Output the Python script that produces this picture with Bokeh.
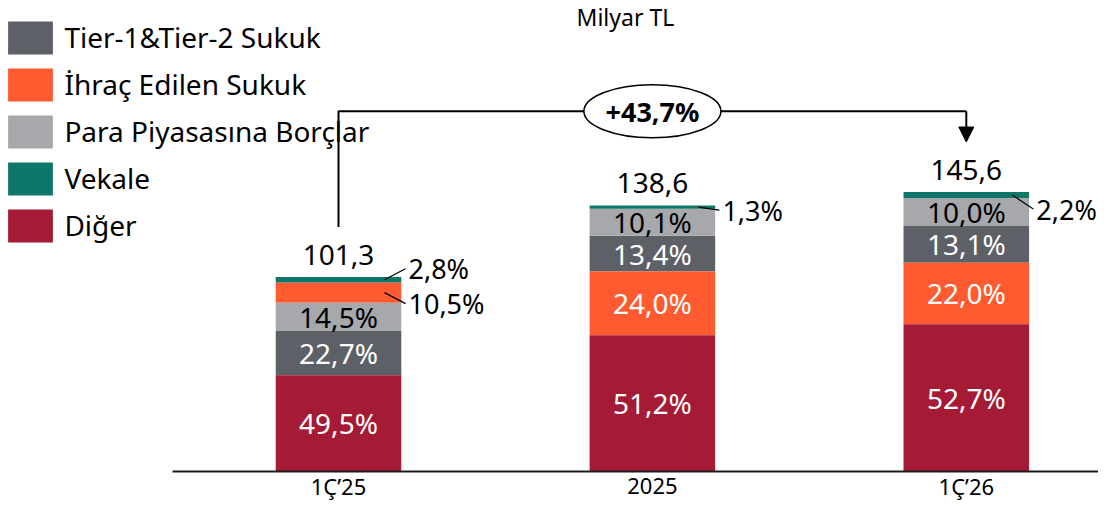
from bokeh.plotting import figure
from bokeh.models import Range1d, ColumnDataSource, Legend, LegendItem, Arrow, NormalHead
from bokeh.core.properties import value
from bokeh.embed import file_html
from bokeh.resources import INLINE

# ---------------- data ----------------
categories = ["1Ç’25", "2025", "1Ç’26"]
totals = [101.3, 138.6, 145.6]
series = ["Tier-1&Tier-2 Sukuk", "İhraç Edilen Sukuk", "Para Piyasasına Borçlar", "Vekale", "Diğer"]
share_tier = [22.7, 13.4, 13.1]
share_ihrac = [10.5, 24.0, 22.0]
share_para = [14.5, 10.1, 10.0]
share_vekale = [2.8, 1.3, 2.2]
share_diger = [49.5, 51.2, 52.7]
stack_order = [
    ["Diğer", "Tier-1&Tier-2 Sukuk", "Para Piyasasına Borçlar", "İhraç Edilen Sukuk", "Vekale"],
    ["Diğer", "İhraç Edilen Sukuk", "Tier-1&Tier-2 Sukuk", "Para Piyasasına Borçlar", "Vekale"],
    ["Diğer", "İhraç Edilen Sukuk", "Tier-1&Tier-2 Sukuk", "Para Piyasasına Borçlar", "Vekale"],
]
growth_label = "+43,7%"
unit_label = "Milyar TL"

shares = {
    "Tier-1&Tier-2 Sukuk": share_tier,
    "İhraç Edilen Sukuk": share_ihrac,
    "Para Piyasasına Borçlar": share_para,
    "Vekale": share_vekale,
    "Diğer": share_diger,
}

# ---------------- style ----------------
colors = {
    "Tier-1&Tier-2 Sukuk": "#5E6068",
    "İhraç Edilen Sukuk": "#FF5A30",
    "Para Piyasasına Borçlar": "#A7A8AC",
    "Vekale": "#0F766A",
    "Diğer": "#A51A34",
}
label_colors = {
    "Tier-1&Tier-2 Sukuk": "white",
    "İhraç Edilen Sukuk": "white",
    "Para Piyasasına Borçlar": "black",
    "Vekale": "white",
    "Diğer": "white",
}
# segments labelled outside the bar: (category index, series, leader vertical shift in px)
outside = [(0, "Vekale", -11), (0, "İhraç Edilen Sukuk", 11), (1, "Vekale", 3), (2, "Vekale", 14)]

FONT = "Noto Sans"
W, H = 1098, 501
PX_X = 313.9    # px per x unit
PX_Y = 1.92     # px per y unit
X0_PX = 338     # screen x of first bar centre
BASE_PX = 471   # screen y of the baseline
x_start = -X0_PX / PX_X
x_end = (W - X0_PX) / PX_X
y_end = BASE_PX / PX_Y
y_start = -(H - BASE_PX) / PX_Y

p = figure(width=W, height=H, output_backend="svg", toolbar_location=None,
           x_range=Range1d(x_start, x_end), y_range=Range1d(y_start, y_end),
           x_axis_location=None, y_axis_location=None,
           min_border_left=0, min_border_right=0, min_border_top=0, min_border_bottom=0)
p.outline_line_color = None
p.grid.visible = False
p.background_fill_color = "white"
p.border_fill_color = "white"

xs = list(range(len(categories)))

# stacked segments (order differs per bar)
bounds = {s: ([0.0] * 3, [0.0] * 3) for s in series}
for i, order in enumerate(stack_order):
    acc = 0.0
    for s in order:
        v = totals[i] * shares[s][i] / 100.0
        bounds[s][0][i] = acc
        bounds[s][1][i] = acc + v
        acc += v

renderers = {}
for s in series:
    src = ColumnDataSource(dict(x=xs, bottom=bounds[s][0], top=bounds[s][1]))
    renderers[s] = p.vbar(x="x", bottom="bottom", top="top", width=0.4, source=src,
                          fill_color=colors[s], line_color=None)

# baseline (category axis line)
p.segment(x0=[-166 / PX_X], y0=[0], x1=[x_end], y1=[0], line_color="#1a1a1a", line_width=2)

# category labels
p.text(x=xs, y=[0] * len(xs), text=categories, y_offset=14, text_align="center",
       text_baseline="middle", text_color="black", text_font=value(FONT),
       text_font_size="22px")

# inside labels
out_keys = {(i, s) for i, s, _ in outside}
lx, ly, lt, lc = [], [], [], []
for s in series:
    for i in xs:
        if (i, s) in out_keys:
            continue
        lx.append(i)
        ly.append((bounds[s][0][i] + bounds[s][1][i]) / 2)
        lt.append(f"{shares[s][i]:.1f}%".replace(".", ","))
        lc.append(label_colors[s])
p.text(x="x", y="y", text="t", text_color="c",
       source=ColumnDataSource(dict(x=lx, y=ly, t=lt, c=lc)),
       text_align="center", text_baseline="middle",
       text_font=value(FONT), text_font_size="28px")

# outside labels with leader lines
x0s, y0s, x1s, y1s, ot = [], [], [], [], []
for i, s, dy in outside:
    mid = (bounds[s][0][i] + bounds[s][1][i]) / 2
    x0s.append(i + 46 / PX_X)
    y0s.append(mid)
    x1s.append(i + 67 / PX_X)
    y1s.append(mid - dy / PX_Y)
    ot.append(f"{shares[s][i]:.1f}%".replace(".", ","))
p.segment(x0=x0s, y0=y0s, x1=x1s, y1=y1s, line_color="black", line_width=1.3)
p.text(x=x1s, y=y1s, text=ot, x_offset=3, text_align="left", text_baseline="middle",
       text_color="black", text_font=value(FONT), text_font_size="27px")

# totals
p.text(x=xs, y=totals, text=[f"{t:.1f}".replace(".", ",") for t in totals], y_offset=-22,
       text_align="center", text_baseline="middle", text_color="black",
       text_font=value(FONT), text_font_size="28px")

# growth bracket
bracket_y = max(totals) + 42
gap = 26
p.line(x=[0, 0, 2, 2], y=[totals[0] + gap, bracket_y, bracket_y, bracket_y],
       line_color="black", line_width=2)
p.add_layout(Arrow(x_start=2, y_start=bracket_y, x_end=2, y_end=totals[2] + gap,
                   line_color="black", line_width=2,
                   end=NormalHead(size=15, fill_color="black", line_color="black")))
p.ellipse(x=[1], y=[bracket_y], width=137, height=53, width_units="screen",
          height_units="screen", fill_color="white", line_color="black", line_width=1.5)
p.text(x=[1], y=[bracket_y], text=[growth_label], text_align="center", text_baseline="middle",
       text_color="black", text_font=value(FONT), text_font_size="27px", text_font_style="bold")

# unit label
p.text(x=[1], y=[y_end], text=[unit_label], x_offset=-27, y_offset=0, text_align="center",
       text_baseline="top", text_color="black", text_font=value(FONT), text_font_size="23px")

# legend (Bokeh insets area glyphs by 10% inside the glyph box)
gw, gh = 56, 41
sp = 6
legend_h = 5 * gh + 4 * sp
legend = Legend(items=[LegendItem(label=s, renderers=[renderers[s]]) for s in series],
                location=(8 - 0.1 * gw, H - (21 - 0.1 * gh) - legend_h),
                glyph_width=gw, glyph_height=gh, label_height=33, label_standoff=6,
                spacing=sp, padding=0, margin=0, border_line_color=None,
                background_fill_alpha=0, label_text_font=FONT, label_text_font_size="28px",
                label_text_color="black")
p.add_layout(legend, "center")

open("out.html", "w").write(file_html(p, INLINE))
